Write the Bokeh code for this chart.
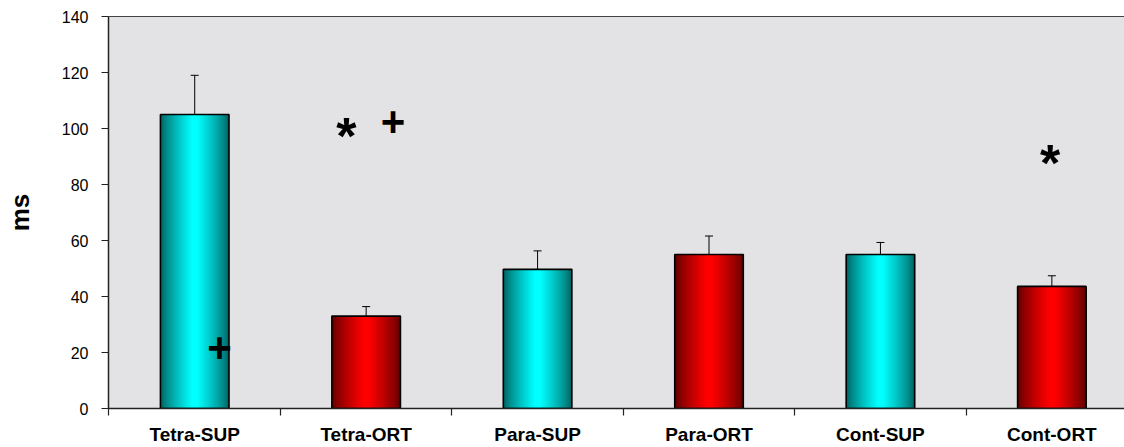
from bokeh.plotting import figure
from bokeh.models import Range1d, FixedTicker, LinearAxis, Whisker, ColumnDataSource, TeeHead
from bokeh.core.properties import value
from bokeh.embed import file_html
from bokeh.resources import INLINE

# ---- data ----
categories = ["Tetra-SUP", "Tetra-ORT", "Para-SUP", "Para-ORT", "Cont-SUP", "Cont-ORT"]
means = [105, 33, 49.7, 55, 55, 43.6]
errors = [14, 3.4, 6.6, 6.6, 4.3, 3.8]
groups = ["SUP", "ORT", "SUP", "ORT", "SUP", "ORT"]
y_ticks = [0, 20, 40, 60, 80, 100, 120, 140]

# significance marks: category index, offset within category, value, symbol
mark_cat = [0, 1, 1, 5]
mark_off = [0.144, -0.116, 0.156, -0.01]
mark_val = [22, 100.5, 103, 91]
mark_sym = ["+", "*", "+", "*"]

FONT = "Liberation Sans"

centers = [i + 0.5 for i in range(len(categories))]
bounds = [i for i in range(len(categories) + 1)]

W, H = 1124, 447
frame_left = 108
cat_px = 171.6
x_end = (W - frame_left + 0.5) / cat_px

p = figure(width=W, height=H, output_backend="svg", toolbar_location=None,
           x_range=Range1d(-0.5 / cat_px, x_end), y_range=Range1d(0, 140),
           min_border_left=frame_left, min_border_right=0, min_border_top=16,
           min_border_bottom=0)
p.background_fill_color = "#e3e3e5"
p.border_fill_color = "white"
p.outline_line_color = None
p.xgrid.visible = False
p.ygrid.visible = False

# y axis
yax = p.yaxis[0]
yax.ticker = FixedTicker(ticks=y_ticks)
yax.minor_tick_line_color = None
yax.major_tick_out = 7
yax.major_tick_in = 0
yax.axis_line_color = "#222222"
yax.axis_line_width = 1.5
yax.major_tick_line_color = "#222222"
yax.major_tick_line_width = 1.2
yax.major_label_text_font = FONT
yax.major_label_text_font_size = "16px"
yax.major_label_text_color = "black"
yax.major_label_standoff = 13
yax.axis_label = "ms"
yax.axis_label_text_font = FONT
yax.axis_label_text_font_size = "26px"
yax.axis_label_text_font_style = "bold"
yax.axis_label_text_color = "black"
yax.axis_label_standoff = 24

# x axis: labels at centres, tick marks at category boundaries
xax = p.xaxis[0]
xax.ticker = FixedTicker(ticks=centers, minor_ticks=bounds)
xax.major_label_overrides = {c: name for c, name in zip(centers, categories)}
xax.major_tick_line_color = None
xax.major_tick_out = 0
xax.major_tick_in = 0
xax.minor_tick_out = 7
xax.minor_tick_in = 0
xax.minor_tick_line_color = "#222222"
xax.minor_tick_line_width = 1.2
xax.axis_line_color = "#222222"
xax.axis_line_width = 1.5
xax.major_label_text_font = FONT
xax.major_label_text_font_size = "19px"
xax.major_label_text_font_style = "bold"
xax.major_label_text_color = "black"
xax.major_label_standoff = 8

# top border as an empty axis
top = LinearAxis(ticker=FixedTicker(ticks=[]), major_tick_out=0, major_tick_in=0,
                 minor_tick_out=0, minor_tick_in=0, major_label_standoff=0,
                 major_label_text_font_size="0px",
                 axis_line_color="#444444", axis_line_width=1.2)
p.add_layout(top, "above")

# bars with a horizontal shading (edges dark -> centre bright), drawn as nested bars
edge = {"SUP": (0, 100, 100), "ORT": (100, 0, 0)}
mid = {"SUP": (0, 255, 255), "ORT": (255, 0, 0)}
bar_w = 0.40
n_layers = 16
for g in ["SUP", "ORT"]:
    xs = [c for c, gg in zip(centers, groups) if gg == g]
    tops = [m for m, gg in zip(means, groups) if gg == g]
    src = ColumnDataSource(dict(x=xs, top=tops))
    for k in range(n_layers):
        t = k / (n_layers - 1)
        s = t ** 0.8
        col = tuple(int(round(e + (m - e) * s)) for e, m in zip(edge[g], mid[g]))
        w = bar_w * (1 - 0.9 * t)
        p.vbar(x="x", top="top", bottom=0, width=w, source=src,
               fill_color="#%02x%02x%02x" % col, line_color=None)
    p.vbar(x="x", top="top", bottom=0, width=bar_w, source=src,
           fill_color=None, line_color="black", line_width=1.6)

# error bars (upper only)
err_src = ColumnDataSource(dict(x=centers, lower=means,
                                upper=[m + e for m, e in zip(means, errors)]))
wh = Whisker(source=err_src, base="x", lower="lower", upper="upper", dimension="height",
             line_color="black", line_width=1,
             upper_head=TeeHead(size=8, line_color="black", line_width=1),
             lower_head=None)
p.add_layout(wh)

# significance symbols
mx = [c + 0.5 + o for c, o in zip(mark_cat, mark_off)]
plus_src = ColumnDataSource(dict(x=[x for x, s in zip(mx, mark_sym) if s == "+"],
                                 y=[v for v, s in zip(mark_val, mark_sym) if s == "+"],
                                 t=[s for s in mark_sym if s == "+"]))
star_src = ColumnDataSource(dict(x=[x for x, s in zip(mx, mark_sym) if s == "*"],
                                 y=[v for v, s in zip(mark_val, mark_sym) if s == "*"],
                                 t=[s for s in mark_sym if s == "*"]))
p.text(x="x", y="y", text="t", source=plus_src, text_font=value(FONT),
       text_font_style="bold", text_font_size="42px", text_align="center",
       text_baseline="middle", text_color="black", y_offset=1)
p.text(x="x", y="y", text="t", source=star_src, text_font=value(FONT),
       text_font_style="bold", text_font_size="52px", text_align="center",
       text_baseline="middle", text_color="black", y_offset=9)

open("out.html", "w").write(file_html(p, INLINE))
